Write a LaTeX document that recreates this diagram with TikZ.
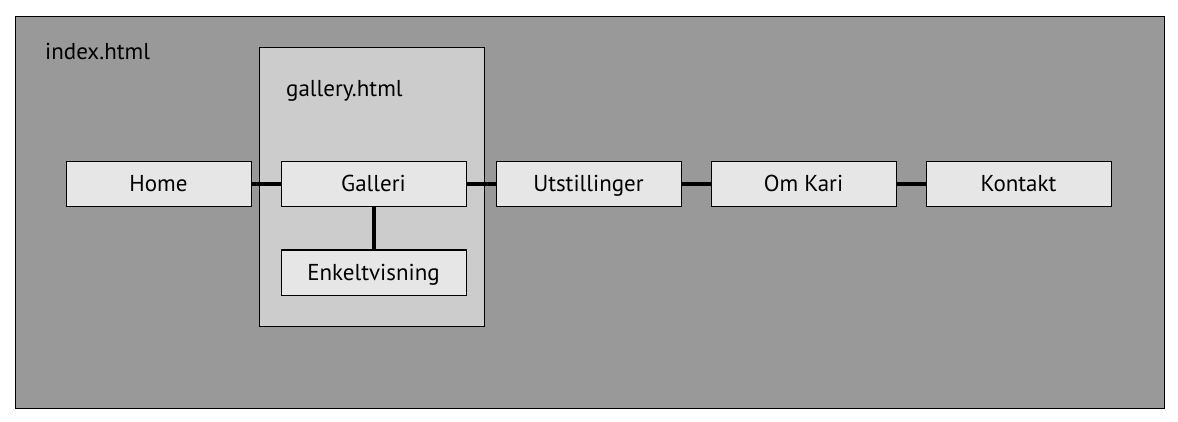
\documentclass[tikz,border=0pt]{standalone}
\usepackage{fontspec}
\setmainfont{PT Sans}
\usetikzlibrary{positioning}
\definecolor{PageGray}{HTML}{999999}
\definecolor{FrameGray}{HTML}{CCCCCC}
\definecolor{BoxGray}{HTML}{E6E6E6}
\tikzset{Page/.style={%
    draw=black,%
    fill=PageGray,%
    line width=1pt,%
}}
\tikzset{Frame/.style={%
    draw=black,%
    fill=FrameGray,%
    line width=1pt,%
}}
\tikzset{MenuItem/.style={%
    shape=rectangle,%
    draw=black,%
    fill=BoxGray,%
    line width=1pt,%
    minimum width=185pt,%
    minimum height=45pt,%
    text height=15pt,%
    text depth=0pt,%
    inner sep=0pt,%
    outer sep=0pt,%
    font=\fontsize{23}{27}\selectfont,%
}}
\tikzset{FileLabel/.style={%
    anchor=base west,%
    inner sep=0pt,%
    font=\fontsize{23}{27}\selectfont,%
}}
\tikzset{Link/.style={%
    line width=4pt,%
}}

\begin{document}
\begin{tikzpicture}[x=1pt,y=-1pt]
    \useasboundingbox (0,0) rectangle (1178,422);
    \draw[Page] (15,17) rectangle (1164,408);
    \draw[Frame] (259,48) rectangle (484,326);
    \node[FileLabel] (index) at (45,60) {index.html};
    \node[FileLabel] (gallery) at (286,97) {gallery.html};

    \node[MenuItem] (home) at (158.5,184.5) {Home};
    \node[MenuItem, right=30pt of home] (galleri) {Galleri};
    \node[MenuItem, right=30pt of galleri] (utst) {Utstillinger};
    \node[MenuItem, right=30pt of utst] (omkari) {Om Kari};
    \node[MenuItem, right=30pt of omkari] (kontakt) {Kontakt};
    \node[MenuItem, below=43pt of galleri] (enkelt) {Enkeltvisning};

    \draw[Link] (home) -- (galleri);
    \draw[Link] (galleri) -- (utst);
    \draw[Link] (utst) -- (omkari);
    \draw[Link] (omkari) -- (kontakt);
    \draw[Link] (galleri) -- (enkelt);
\end{tikzpicture}
\end{document}
